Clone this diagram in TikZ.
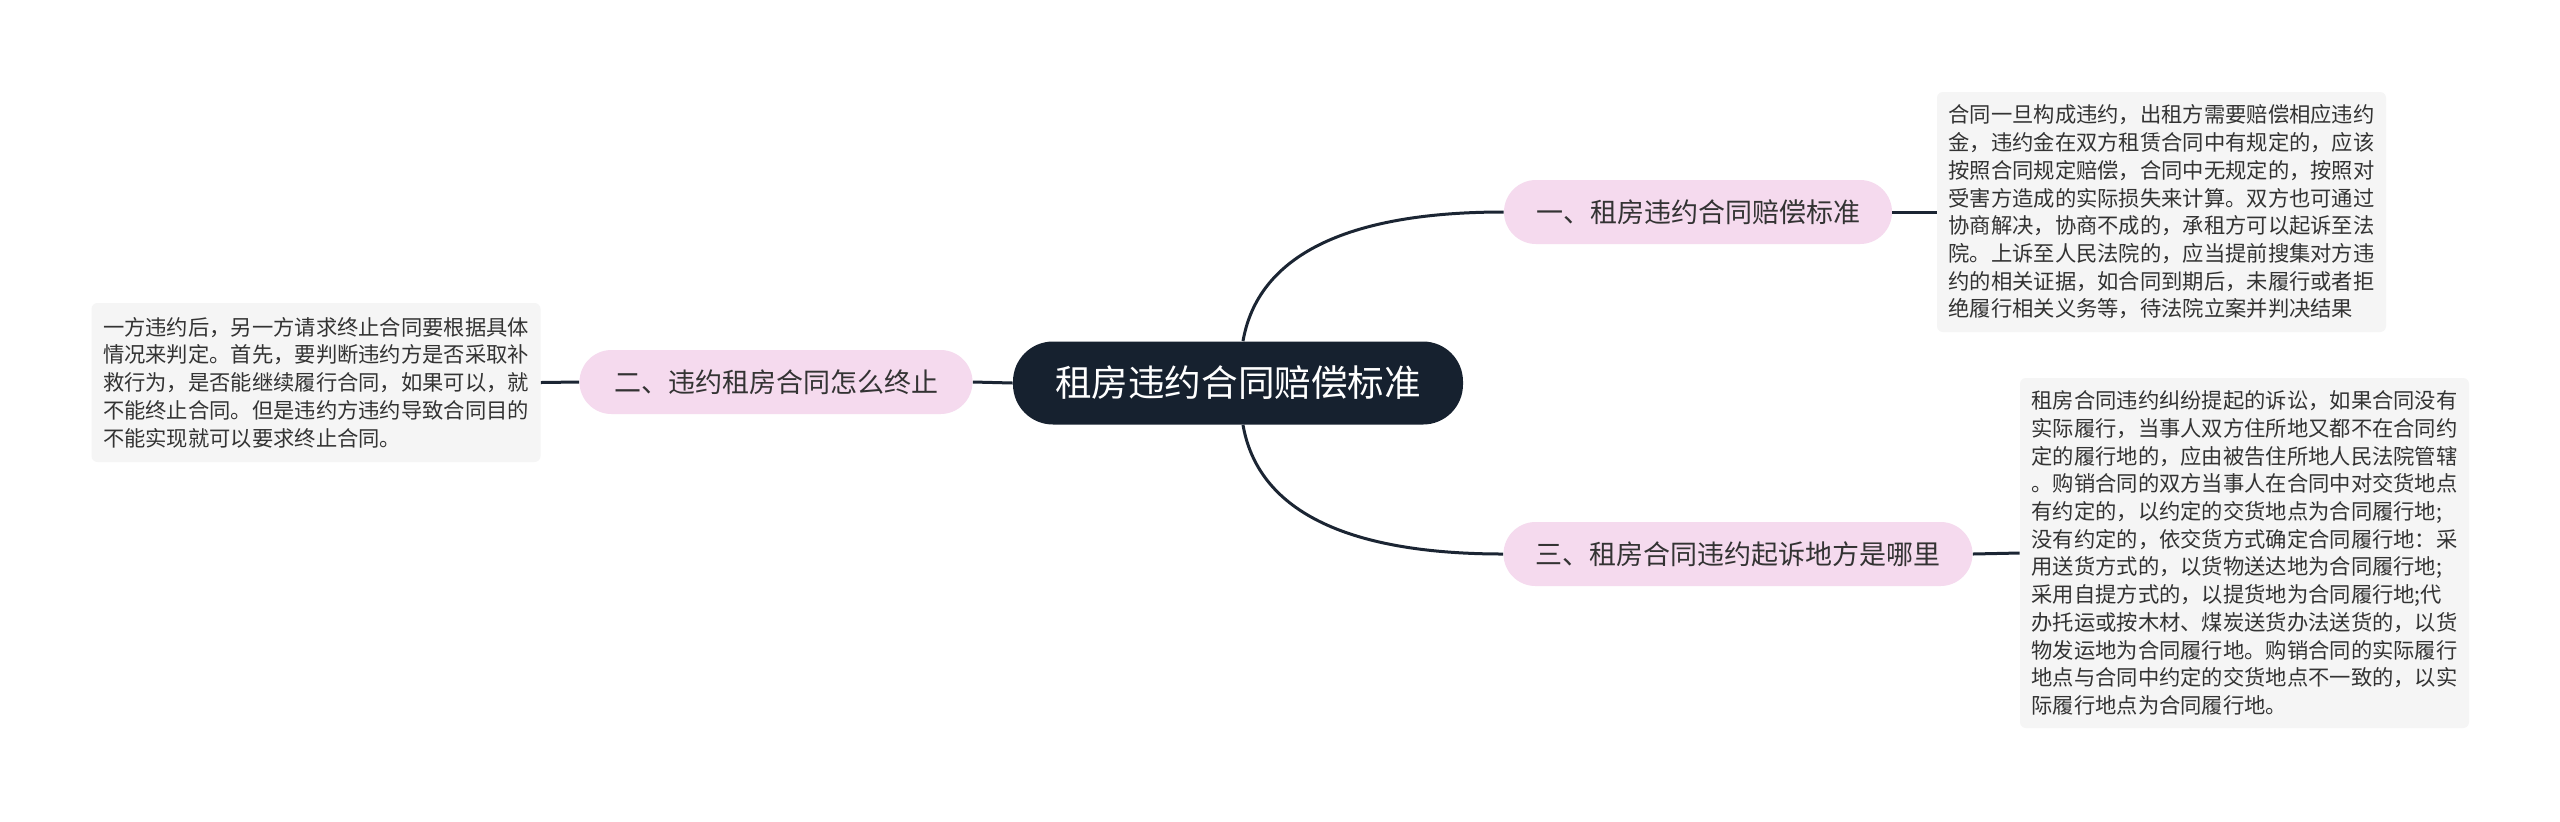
\documentclass[tikz,border=0pt]{standalone}
\usepackage{fontspec}
\setmainfont{Noto Sans CJK SC}
\definecolor{navy}{HTML}{16212F}
\definecolor{pinkf}{HTML}{F5DAEE}
\definecolor{boxg}{HTML}{F5F5F5}
\definecolor{txt}{HTML}{333333}
\definecolor{lnc}{HTML}{1B2533}
\begin{document}
\begin{tikzpicture}[x=0.5pt,y=-0.5pt,
  root/.style={fill=navy, text=white, rounded corners=20pt, minimum width=225pt, minimum height=41.5pt, inner sep=0pt, font=\fontsize{18.3pt}{22pt}\selectfont},
  topic/.style={fill=pinkf, text=txt, rounded corners=16pt, minimum height=32pt, inner sep=0pt, font=\fontsize{13.5pt}{16pt}\selectfont},
  note/.style={fill=boxg, text=txt, rounded corners=3pt, align=left, text width=213pt, inner xsep=5.75pt, inner ysep=0pt, font=\fontsize{10.65pt}{13.85pt}\selectfont},
  conn/.style={draw=lnc, line width=1.5pt}]
\useasboundingbox (0,0) rectangle (2560,821);
\fill[white] (0,0) rectangle (2560,821);

\node[root] (c) at (1238,383) {租房违约合同赔偿标准};
\node[topic, minimum width=194pt] (n1) at (1698,212) {一、租房违约合同赔偿标准};
\node[topic, minimum width=234.5pt] (n3) at (1738,554) {三、租房合同违约起诉地方是哪里};
\node[topic, minimum width=196.5pt] (n2) at (776,382) {二、违约租房合同怎么终止};

\node[note, minimum height=120pt] (b1) at (2161.5,212) {合同一旦构成违约，出租方需要赔偿相应违约\\金，违约金在双方租赁合同中有规定的，应该\\按照合同规定赔偿，合同中无规定的，按照对\\受害方造成的实际损失来计算。双方也可通过\\协商解决，协商不成的，承租方可以起诉至法\\院。上诉至人民法院的，应当提前搜集对方违\\约的相关证据，如合同到期后，未履行或者拒\\绝履行相关义务等，待法院立案并判决结果};

\node[note, minimum height=175pt] (b3) at (2244.5,553) {租房合同违约纠纷提起的诉讼，如果合同没有\\实际履行，当事人双方住所地又都不在合同约\\定的履行地的，应由被告住所地人民法院管辖\\。购销合同的双方当事人在合同中对交货地点\\有约定的，以约定的交货地点为合同履行地;\\没有约定的，依交货方式确定合同履行地：采\\用送货方式的，以货物送达地为合同履行地;\\采用自提方式的，以提货地为合同履行地;代\\办托运或按木材、煤炭送货办法送货的，以货\\物发运地为合同履行地。购销合同的实际履行\\地点与合同中约定的交货地点不一致的，以实\\际履行地点为合同履行地。};

\node[note, minimum height=79.5pt] (b2) at (316,382.5) {一方违约后，另一方请求终止合同要根据具体\\情况来判定。首先，要判断违约方是否采取补\\救行为，是否能继续履行合同，如果可以，就\\不能终止合同。但是违约方违约导致合同目的\\不能实现就可以要求终止合同。};

\draw[conn] ([xshift=2.5pt]c.north) .. controls +(7.3pt,42pt) and +(-80pt,0pt) .. (n1.west);
\draw[conn] ([xshift=2.5pt]c.south) .. controls +(7.3pt,-42pt) and +(-80pt,0pt) .. (n3.west);
\draw[conn] (c.west) -- (n2.east);
\draw[conn] (n1.east) -- (b1.west);
\draw[conn] (n3.east) -- (b3.west);
\draw[conn] (b2.east) -- (n2.west);
\end{tikzpicture}
\end{document}
